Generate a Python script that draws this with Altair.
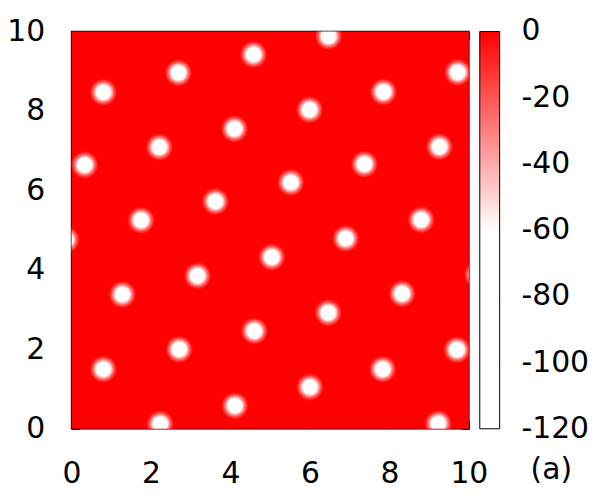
import altair as alt
import pandas as pd

# spot centres (minima of the field)
spot_x = [0.80, 2.71, 4.60, 6.46, 8.32, 10.22,
          2.23, 4.11, 6.00, 7.83, 9.70,
          9.23,
          1.28, 3.17, 5.04, 6.90, 8.80,
          -0.14, 1.75, 3.62, 5.52, 7.37, 9.26,
          0.33, 2.21, 4.10, 5.99, 7.85, 9.72,
          0.80, 2.69, 4.58, 6.47]
spot_y = [1.50, 2.00, 2.46, 2.92, 3.40, 3.88,
          0.12, 0.58, 1.05, 1.50, 1.99,
          0.13,
          3.38, 3.85, 4.32, 4.79, 5.26,
          4.76, 5.25, 5.72, 6.20, 6.66, 7.10,
          6.64, 7.09, 7.55, 8.03, 8.48, 8.97,
          8.47, 8.96, 9.42, 9.88]

axis_ticks = [0, 2, 4, 6, 8, 10]
cb_labels = [0, -20, -40, -60, -80, -100, -120]
cb_inner_ticks = [-20, -40, -60, -80, -100]
color_domain = [-120, -60, 0]
color_range = ["#ffffff", "#ffffff", "#ff0000"]
background = {"x0": [0], "x1": [10], "y0": [0], "y1": [10], "v": [0]}
panel_label = ["(a)"]

FONT = "DejaVu Sans"
FS = 30

bg_df = pd.DataFrame(background)
spots_df = pd.DataFrame({"x": spot_x, "y": spot_y})
cbt_df = pd.DataFrame({"t": cb_inner_ticks})
cbl_df = pd.DataFrame({"v": cb_labels})
lab_df = pd.DataFrame({"t": panel_label})

xs = alt.Scale(domain=[0, 10], nice=False, zero=False)
ys = alt.Scale(domain=[0, 10], nice=False, zero=False)
cb_scale = alt.Scale(domain=[-120, 0], nice=False, zero=False)

common_axis = dict(values=axis_ticks, offset=-8, tickSize=8, tickColor="black",
                   tickWidth=1, domain=False, grid=False, title=None, labelFlush=False,
                   labelFont=FONT, labelFontSize=FS, labelColor="black")

bg_layer = alt.Chart(bg_df).mark_rect().encode(
    x=alt.X("x0:Q", scale=xs, axis=alt.Axis(orient="bottom", labelPadding=30,
                                              labelExpr="'\u00a0' + datum.label", **common_axis)),
    x2="x1:Q",
    y=alt.Y("y0:Q", scale=ys, axis=alt.Axis(orient="left", labelPadding=27, **common_axis)),
    y2="y1:Q",
    color=alt.Color("v:Q",
                    scale=alt.Scale(domain=color_domain, range=color_range, interpolate="rgb"),
                    legend=alt.Legend(orient="none", legendX=411, legendY=0, padding=0,
                                      direction="vertical", title=None,
                                      gradientLength=400, gradientThickness=20,
                                      gradientStrokeColor="black", gradientStrokeWidth=1,
                                      values=cb_labels, labelOpacity=0, labelFontSize=1)),
)

spot_fill = alt.RadialGradient(
    gradient="radial",
    stops=[
        alt.GradientStop(offset=0.0, color="#ffffff"),
        alt.GradientStop(offset=0.52, color="#ffffff"),
        alt.GradientStop(offset=0.66, color="#ff9999"),
        alt.GradientStop(offset=0.80, color="#ff4d4d"),
        alt.GradientStop(offset=0.93, color="#ff1a1a"),
        alt.GradientStop(offset=1.0, color="#ff0000"),
    ],
)

spots_layer = alt.Chart(spots_df).mark_circle(size=760, fill=spot_fill, opacity=1, clip=True).encode(
    x=alt.X("x:Q", scale=xs, axis=alt.Axis(orient="top", labels=False, **common_axis)),
    y=alt.Y("y:Q", scale=ys, axis=alt.Axis(orient="right", labels=False, **common_axis)),
)

# colour-bar ticks (inward, on the right side of the bar)
cbt_layer = alt.Chart(cbt_df).mark_rule(color="black", strokeWidth=1).encode(
    y=alt.Y("t:Q", scale=cb_scale, axis=None),
    x=alt.value(425),
    x2=alt.value(431),
)

# colour-bar labels
cbl_layer = alt.Chart(cbl_df).transform_calculate(
    lbl="datum.v >= 0 ? '\u00a0' + datum.v : '' + datum.v"
).mark_text(font=FONT, fontSize=FS, color="black", align="left", baseline="middle").encode(
    y=alt.Y("v:Q", scale=cb_scale, axis=None),
    x=alt.value(453),
    text="lbl:N",
)

lab_layer = alt.Chart(lab_df).mark_text(font=FONT, fontSize=FS, color="black",
                                          align="center", baseline="middle").encode(
    x=alt.value(483), y=alt.value(442), text="t:N",
)

chart = alt.layer(bg_layer, spots_layer, cbt_layer, cbl_layer, lab_layer).resolve_scale(
    y="independent", x="independent"
).resolve_axis(x="independent", y="independent").properties(
    width=400, height=400,
    autosize=alt.AutoSizeParams(type="none"),
    padding={"left": 64, "top": 22, "right": 124, "bottom": 62},
).configure_view(stroke="black", strokeWidth=1.5)

chart.save("out.html", embed_options={"renderer": "svg", "actions": False})
